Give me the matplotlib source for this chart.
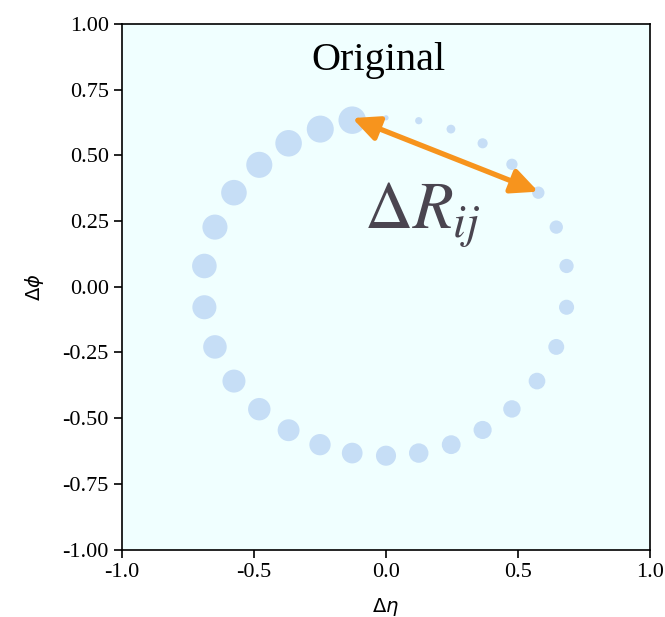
import matplotlib
matplotlib.use("Agg")
import matplotlib.pyplot as plt

plt.rcParams["axes.unicode_minus"] = False
plt.rcParams["mathtext.fontset"] = "dejavusans"

# particle positions around the jet axis, clockwise from the top
d_eta = [0.000, 0.124, 0.246, 0.366, 0.477, 0.577, 0.645, 0.684,
         0.684, 0.645, 0.572, 0.477, 0.366, 0.247, 0.124, 0.000,
         -0.128, -0.250, -0.369, -0.480, -0.576, -0.648, -0.688,
         -0.688, -0.648, -0.576, -0.480, -0.369, -0.249, -0.128]
d_phi = [0.643, 0.632, 0.600, 0.546, 0.466, 0.358, 0.227, 0.079,
         -0.078, -0.229, -0.359, -0.465, -0.545, -0.601, -0.633, -0.643,
         -0.633, -0.601, -0.546, -0.466, -0.359, -0.229, -0.078,
         0.079, 0.227, 0.358, 0.464, 0.546, 0.600, 0.634]
# marker areas (pt^2), growing with particle order
sizes = [14, 27, 40, 53, 66, 79, 92, 105, 118, 131,
         144, 157, 170, 183, 196, 209, 222, 235, 248, 261,
         274, 287, 300, 313, 326, 339, 352, 365, 378, 391]

xticks = [-1.0, -0.5, 0.0, 0.5, 1.0]
yticks = [-1.00, -0.75, -0.50, -0.25, 0.00, 0.25, 0.50, 0.75, 1.00]

fig = plt.figure(figsize=(6.65, 6.17), dpi=100)
ax = fig.add_axes([0.1835, 0.1094, 0.7939, 0.8517])
ax.set_facecolor("#F0FFFF")

ax.scatter(d_eta, d_phi, s=sizes, color="#C6DEF6", edgecolors="none", zorder=2)

# distance between the two particles
i, j = 29, 5
ax.annotate("", xy=(d_eta[j], d_phi[j] + 0.004), xytext=(d_eta[i], d_phi[i] + 0.008),
            arrowprops=dict(arrowstyle="<|-|>,head_length=1.6,head_width=0.75",
                            color="#F7941D", lw=3.8, shrinkA=0, shrinkB=0),
            zorder=3)
ax.text(-0.082, 0.219, r"$\Delta R_{ij}$", fontsize=48, color="#4A4550",
        math_fontfamily="stix", ha="left", va="baseline", zorder=4)
ax.text(-0.03, 0.824, "Original", fontsize=29, family="Liberation Serif",
        ha="center", va="baseline")

ax.set_xlim(-1, 1)
ax.set_ylim(-1, 1)
ax.set_xticks(xticks)
ax.set_yticks(yticks)
ax.set_xticklabels([f"{v:.1f}" for v in xticks], family="Liberation Serif", fontsize=16)
ax.set_yticklabels([f"{v:.2f}" for v in yticks], family="Liberation Serif", fontsize=16)
ax.tick_params(length=6, width=1.2)
for sp in ax.spines.values():
    sp.set_linewidth(1.2)

ax.set_xlabel(r"$\Delta\eta$", fontsize=14, labelpad=10)
ax.set_ylabel(r"$\Delta\phi$", fontsize=14, labelpad=12)

fig.savefig("out.png", dpi=100)
